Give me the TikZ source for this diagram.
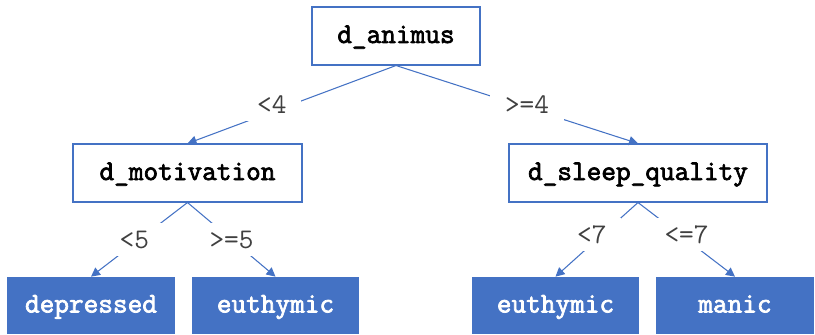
\documentclass[tikz,border=0pt]{standalone}
\usepackage{fontspec}
\newfontfamily\heavytt{Latin Modern Mono}[FakeBold=2.5]
\usetikzlibrary{arrows.meta}
\definecolor{treeblue}{HTML}{4472C4}

\begin{document}
\begin{tikzpicture}[font=\ttfamily\fontsize{16.2}{19}\selectfont,
  split/.style={draw=treeblue, line width=0.6pt, fill=white, minimum height=11.6mm, minimum width=#1, text height=3.6mm, text depth=0.8mm, font=\heavytt\fontsize{16.2}{19}\selectfont},
  leaf/.style={fill=treeblue, text=white, minimum height=11.4mm, minimum width=#1, text height=3.6mm, text depth=0.8mm, font=\heavytt\fontsize{16.2}{19}\selectfont},
  cond/.style={fill=white, text=black!75, inner xsep=3mm, inner ysep=1.5mm},
  >={Triangle[length=1.8mm,width=1.8mm]}]
\useasboundingbox (0,0) rectangle (16.3,-6.7);
% split nodes
\node[split=33.6mm] (animus) at (7.92,-0.72) {d\_animus};
\node[split=45.8mm] (motiv) at (3.75,-3.46) {d\_motivation};
\node[split=51.6mm] (sleep) at (12.76,-3.46) {d\_sleep\_quality};
% leaves
\node[leaf=33.6mm] (depr) at (1.82,-6.11) {depressed};
\node[leaf=33.4mm] (euth1) at (5.51,-6.11) {euthymic};
\node[leaf=33.4mm] (euth2) at (11.11,-6.11) {euthymic};
\node[leaf=31.6mm] (manic) at (14.70,-6.11) {manic};
% branches
\begin{scope}[draw=treeblue, line width=0.6pt]
\draw[->] (animus.south) -- node[cond, xshift=-4mm] (lt4) {<4} (motiv.north);
\draw[->] (animus.south) -- node[cond, xshift=2mm] (ge4) {>=4} (sleep.north);
\draw[->] (motiv.south) -- node[cond, xshift=-1mm] (lt5) {<5} (depr.north);
\draw[->] (motiv.south) -- node[cond] (ge5) {>=5} (euth1.north);
\draw[->] (sleep.south) -- node[cond, xshift=-1mm, yshift=1mm] (lt7) {<7} (euth2.north);
\draw[->] (sleep.south) -- node[cond, yshift=1mm] (le7) {<=7} (manic.north);
\end{scope}
\end{tikzpicture}
\end{document}
